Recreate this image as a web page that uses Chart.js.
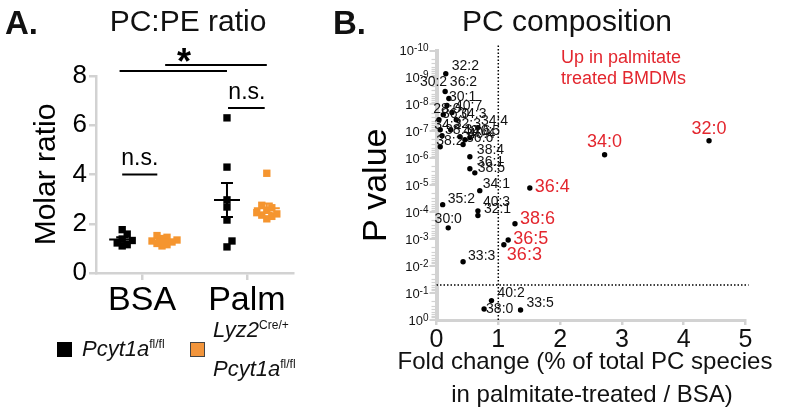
<!DOCTYPE html>
<html>
<head>
<meta charset="utf-8">
<script src="https://cdn.jsdelivr.net/npm/chart.js@4.4.1/dist/chart.umd.min.js"></script>
<style>
  html, body { margin: 0; padding: 0; background: #fff; }
  body { width: 790px; height: 411px; position: relative; overflow: hidden;
         font-family: 'Liberation Sans', Arial, Helvetica, sans-serif; color: #111; }
  canvas { position: absolute; top: 0; }
  #chartA { left: 0; }
  #chartB { left: 330px; }
  .t { position: absolute; white-space: nowrap; line-height: 1; }
  .letter { font-weight: bold; font-size: 33px; top: 6px; }
  .title { font-size: 30px; top: 6px; transform: translateX(-50%); }
  .leg { font-size: 22px; font-style: italic; line-height: 22px; }
  .leg span { font-style: normal; font-size: 12px; position: relative; top: -8px; }
  .box { position: absolute; width: 15px; height: 15px; box-sizing: border-box; }
  .up { color: #e3262e; font-size: 18px; line-height: 21px; left: 561px; top: 47px; }
</style>
</head>
<body>
<canvas id="chartA" width="330" height="411"></canvas>
<canvas id="chartB" width="460" height="411"></canvas>

<div class="t letter" style="left:5px">A.</div>
<div class="t letter" style="left:333px">B.</div>
<div class="t title" style="left:188px">PC:PE ratio</div>
<div class="t title" style="left:567px">PC composition</div>

<div class="box" style="left:57px; top:342px; background:#000"></div>
<div class="t leg" style="left:82px; top:338px">Pcyt1a<span>fl/fl</span></div>
<div class="box" style="left:190px; top:342px; background:#f2953c; border:1px solid #444"></div>
<div class="t leg" style="left:213px; top:319px">Lyz2<span>Cre/+</span></div>
<div class="t leg" style="left:213px; top:358px">Pcyt1a<span>fl/fl</span></div>

<div class="t up">Up in palmitate<br>treated BMDMs</div>

<script>
// ---- Panel A data: PC:PE molar ratio ----
const groups = ['BSA', 'Palm'];
const ctrlBSA = [1.76, 1.58, 1.38, 1.32, 1.22, 1.15, 1.10];
const koBSA = [1.52, 1.45, 1.40, 1.34, 1.30, 1.26, 1.20, 1.15, 1.10];
const ctrlPalm = [6.30, 4.30, 2.97, 2.68, 2.15, 1.30, 1.06];
const koPalm = [4.05, 2.75, 2.65, 2.55, 2.45, 2.40, 2.35, 2.30, 2.20];
const ratioTicks = [0, 2, 4, 6, 8];

// ---- Panel B data: PC species, fold change vs -log10(P) ----
const species = ['32:0', '34:0', '36:4', '38:6', '36:5', '36:3', '33:3', '40:2', '38:0', '33:5',
  '30:0', '35:2', '40:3', '32:1', '34:1', '38:4', '36:1', '38:5', '32:2', '30:2', '36:2', '30:1',
  '28:0', '36:0', '40:7', '34:3', '32:3', '34:2', '38:3', '40:6', '40:4', '40:5', '34:4', '38:2', '36:6'];
const foldChange = [4.41, 2.72, 1.51, 1.27, 1.16, 1.09, 0.43, 0.89, 0.77, 1.36,
  0.19, 0.10, 0.67, 0.67, 0.70, 0.54, 0.54, 0.62, 0.15, 0.14, 0.20, 0.17,
  0.11, 0.04, 0.25, 0.32, 0.23, 0.06, 0.09, 0.38, 0.46, 0.54, 0.67, 0.06, 0.43];
const negLog10P = [6.65, 6.13, 4.90, 3.57, 2.97, 2.79, 2.16, 0.72, 0.41, 0.37,
  3.42, 4.28, 4.05, 3.88, 4.80, 6.06, 5.61, 5.46, 9.14, 8.48, 8.22, 7.96,
  7.62, 7.43, 7.70, 7.43, 7.06, 7.06, 6.84, 6.80, 6.69, 6.77, 7.14, 6.43, 6.51];
const upSpecies = ['32:0', '34:0', '36:4', '38:6', '36:5', '36:3'];
const foldTicks = [0, 1, 2, 3, 4, 5];
const pDecades = [0, 1, 2, 3, 4, 5, 6, 7, 8, 9, 10];
const foldCutoff = 1;
const pCutoff = 0.05;
const xTitleB = ['Fold change (% of total PC species', 'in palmitate-treated / BSA)'];

Chart.defaults.font.family = "'Liberation Sans', Arial, Helvetica, sans-serif";
Chart.defaults.color = '#111';

const AXIS_GREY = '#d2d2d2';
const ORANGE = '#f5952f';
const RED = '#e3262e';

// layout of panel A (canvas px)
const A = { left: 96, right: 293, top: 76, bottom: 273, xMin: 0.12, xMax: 3.88 };
const posA = { ctrlBSA: 0.62, koBSA: 1.38, ctrlPalm: 2.62, koPalm: 3.38 };

const mean = v => v.reduce((a, b) => a + b, 0) / v.length;
const sem = v => {
    const m = mean(v);
    const sd = Math.sqrt(v.reduce((a, b) => a + (b - m) * (b - m), 0) / (v.length - 1));
    return sd / Math.sqrt(v.length);
};

// simple column beeswarm so overlapping squares spread sideways
function swarm(values, center) {
    const xPerPx = (A.xMax - A.xMin) / (A.right - A.left);
    const yPerPx = 8 / (A.bottom - A.top);
    const step = 5, gapY = 6.5;
    const placed = [];
    values.slice().sort((a, b) => a - b).forEach(v => {
        for (let k = 0; k < 20; k++) {
            const off = (k % 2 ? 1 : -1) * Math.ceil(k / 2) * step;
            const clash = placed.some(p => p.off === off && Math.abs(p.v - v) / yPerPx < gapY);
            if (!clash) { placed.push({ v, off }); break; }
        }
    });
    return placed.map(p => ({ x: center + p.off * xPerPx, y: p.v }));
}

const seriesA = [
    { values: ctrlBSA, pos: posA.ctrlBSA, color: '#000' },
    { values: koBSA, pos: posA.koBSA, color: ORANGE },
    { values: ctrlPalm, pos: posA.ctrlPalm, color: '#000' },
    { values: koPalm, pos: posA.koPalm, color: ORANGE }
];

// mean +/- SEM and the significance brackets
const annotA = {
    id: 'annotA',
    afterDatasetsDraw(chart) {
        const { ctx, scales: { x, y } } = chart;
        ctx.save();
        ctx.lineWidth = 2;
        seriesA.forEach(s => {
            const m = mean(s.values), e = sem(s.values);
            const cx = x.getPixelForValue(s.pos);
            const ym = y.getPixelForValue(m), yt = y.getPixelForValue(m + e), yb = y.getPixelForValue(m - e);
            ctx.strokeStyle = s.color;
            ctx.beginPath();
            ctx.moveTo(cx - 13, ym); ctx.lineTo(cx + 13, ym);
            ctx.moveTo(cx, yt); ctx.lineTo(cx, yb);
            ctx.moveTo(cx - 6, yt); ctx.lineTo(cx + 6, yt);
            ctx.moveTo(cx - 6, yb); ctx.lineTo(cx + 6, yb);
            ctx.stroke();
        });

        const hline = (x1, x2, v) => {
            const py = y.getPixelForValue(v);
            ctx.beginPath();
            ctx.moveTo(x.getPixelForValue(x1), py);
            ctx.lineTo(x.getPixelForValue(x2), py);
            ctx.stroke();
            return py;
        };
        ctx.strokeStyle = '#000';
        ctx.fillStyle = '#000';
        ctx.textAlign = 'center';
        ctx.textBaseline = 'alphabetic';

        // n.s. within each treatment
        ctx.font = "23px 'Liberation Sans', Arial, sans-serif";
        let py = hline(posA.ctrlBSA, posA.koBSA - 0.09, 4.0);
        ctx.fillText('n.s.', x.getPixelForValue((posA.ctrlBSA + posA.koBSA - 0.09) / 2), py - 10);
        py = hline(posA.ctrlPalm + 0.02, posA.koPalm - 0.04, 6.7);
        ctx.fillText('n.s.', x.getPixelForValue((posA.ctrlPalm + posA.koPalm) / 2), py - 9);

        // * BSA vs Palm
        hline(posA.ctrlBSA - 0.05, posA.ctrlPalm, 8.2);
        py = hline(posA.koBSA + 0.06, posA.koPalm, 8.45);
        ctx.font = "bold 36px 'Liberation Sans', Arial, sans-serif";
        ctx.fillText('*', x.getPixelForValue(1.8), py + 9);
        ctx.restore();
    }
};

new Chart(document.getElementById('chartA'), {
    type: 'scatter',
    data: {
        datasets: seriesA.map(s => ({
            data: swarm(s.values, s.pos),
            backgroundColor: s.color,
            borderWidth: 0,
            pointStyle: 'rect',
            pointRadius: 5.2
        }))
    },
    options: {
        responsive: false,
        animation: false,
        devicePixelRatio: 1,
        layout: { padding: { left: 0, top: A.top, right: 330 - A.right, bottom: 0 } },
        plugins: { legend: { display: false }, tooltip: { enabled: false } },
        scales: {
            x: {
                type: 'linear',
                min: A.xMin, max: A.xMax,
                afterFit: s => { s.height = 411 - A.bottom; },
                afterBuildTicks: s => { s.ticks = [1, 3].map(v => ({ value: v })); },
                ticks: {
                    callback: v => groups[[1, 3].indexOf(v)],
                    font: { size: 34 }, color: '#000', padding: 0, maxRotation: 0
                },
                grid: { drawOnChartArea: false, drawTicks: true, tickLength: 7, color: AXIS_GREY, lineWidth: 2.5 },
                border: { color: AXIS_GREY, width: 2.5 }
            },
            y: {
                min: 0, max: 8,
                afterFit: s => { s.width = A.left; },
                afterBuildTicks: s => { s.ticks = ratioTicks.map(v => ({ value: v })); },
                ticks: { font: { size: 26 }, color: '#000', padding: 2 },
                grid: { drawOnChartArea: false, drawTicks: true, tickLength: 7, color: AXIS_GREY, lineWidth: 2.5 },
                border: { color: AXIS_GREY, width: 2.5 },
                title: { display: true, text: 'Molar ratio', font: { size: 30 }, color: '#000', padding: { top: 29, bottom: 0 } }
            }
        }
    },
    plugins: [annotA]
});

// ---- Panel B ----
const B = { left: 106.5, right: 415.5, top: 50.5, bottom: 320 };
const labelStyle = {
    '30:2': { dx: 2, dy: -9, align: 'right' },
    '36:2': { dx: 1, dy: -16 },
    '32:2': { dx: 6, dy: -8 },
    '30:1': { dx: 2, dy: -8 },
    '30:0': { dx: 0, dy: -9, align: 'center' },
    '34:1': { dx: 3, dy: -6 },
    '40:3': { dx: 5, dy: -9 },
    '32:1': { dx: 6, dy: -6 },
    '38:4': { dx: 7, dy: -7 },
    '36:1': { dx: 7, dy: -7 },
    '38:5': { dx: 3, dy: -5 },
    '38:0': { dx: 2, dy: 0 },
    '40:2': { dx: 6, dy: -7 },
    '33:5': { dx: 6, dy: -7 },
    '33:3': { dx: 5, dy: -6 },
    '35:2': { dx: 5, dy: -6 },
    '36:4': { dx: 5, dy: -1 },
    '38:6': { dx: 5, dy: -5 },
    '36:5': { dx: 5, dy: -1 },
    '36:3': { dx: 3, dy: 10 },
    '34:0': { dx: 0, dy: -13, align: 'center' },
    '32:0': { dx: 0, dy: -12, align: 'center' },
    '28:0': { dx: -10, dy: -6 },
    '34:2': { dx: -6, dy: -5 },
    '38:2': { dx: -4, dy: -6 }
};

const annotB = {
    id: 'annotB',
    afterDraw(chart) {
        const { ctx, chartArea, scales: { y } } = chart;
        const axisX = chartArea.left;
        ctx.save();
        // minor log ticks
        ctx.strokeStyle = AXIS_GREY;
        ctx.lineWidth = 1.2;
        pDecades.slice(0, -1).forEach(n => {
            for (let k = 2; k <= 9; k++) {
                const py = Math.round(y.getPixelForValue(n + 1 - Math.log10(k))) + 0.5;
                ctx.beginPath();
                ctx.moveTo(axisX - 5, py); ctx.lineTo(axisX, py);
                ctx.stroke();
            }
        });
        // 10^-n tick labels
        ctx.fillStyle = '#111';
        pDecades.forEach(n => {
            const py = y.getPixelForValue(n);
            const exp = n === 0 ? '0' : '-' + n;
            ctx.font = "10px 'Liberation Sans', Arial, sans-serif";
            const ew = ctx.measureText(exp).width;
            ctx.textAlign = 'right';
            ctx.textBaseline = 'alphabetic';
            const right = axisX - 8;
            ctx.fillText(exp, right, py + 0.5);
            ctx.font = "13px 'Liberation Sans', Arial, sans-serif";
            ctx.textBaseline = 'middle';
            ctx.fillText('10', right - ew, py + 1);
        });

        // x axis title, allowed to run wider than the axis
        ctx.font = "24px 'Liberation Sans', Arial, sans-serif";
        ctx.textAlign = 'center';
        ctx.textBaseline = 'middle';
        const cx = (chartArea.left + chartArea.right) / 2;
        ctx.fillText(xTitleB[0], cx - 6, 362);
        ctx.fillText(xTitleB[1], cx + 1, 395);

        // species labels
        const meta = chart.getDatasetMeta(0);
        meta.data.forEach((pt, i) => {
            const name = species[i];
            const up = upSpecies.includes(name);
            const st = labelStyle[name] || { dx: 3, dy: -6 };
            ctx.font = (up ? 18 : 14) + "px 'Liberation Sans', Arial, sans-serif";
            ctx.fillStyle = up ? RED : '#111';
            ctx.textAlign = st.align || 'left';
            ctx.textBaseline = 'middle';
            ctx.fillText(name, pt.x + st.dx, pt.y + st.dy);
        });
        ctx.restore();
    }
};

const pLine = -Math.log10(pCutoff);
new Chart(document.getElementById('chartB'), {
    type: 'scatter',
    data: {
        datasets: [
            {
                data: species.map((s, i) => ({ x: foldChange[i], y: negLog10P[i] })),
                backgroundColor: '#000',
                borderWidth: 0,
                pointRadius: 2.7,
                clip: false
            },
            {
                type: 'line',
                data: [{ x: foldCutoff, y: 0 }, { x: foldCutoff, y: 10.2 }],
                borderColor: '#000', borderWidth: 1.5, borderDash: [1.5, 2],
                pointRadius: 0, clip: false
            },
            {
                type: 'line',
                data: [{ x: 0, y: pLine }, { x: 5.05, y: pLine }],
                borderColor: '#000', borderWidth: 1.5, borderDash: [1.5, 2],
                pointRadius: 0, clip: false
            }
        ]
    },
    options: {
        responsive: false,
        animation: false,
        devicePixelRatio: 1,
        layout: { padding: { left: 0, top: B.top, right: 460 - B.right, bottom: 0 } },
        plugins: { legend: { display: false }, tooltip: { enabled: false } },
        scales: {
            x: {
                type: 'linear',
                min: 0, max: 5,
                afterFit: s => { s.height = 411 - B.bottom; },
                afterBuildTicks: s => { s.ticks = foldTicks.map(v => ({ value: v })); },
                ticks: { font: { size: 25 }, color: '#111', padding: 0, maxRotation: 0 },
                grid: { drawOnChartArea: false, drawTicks: true, tickLength: 5, color: AXIS_GREY, lineWidth: 2.5 },
                border: { color: AXIS_GREY, width: 3 }
            },
            y: {
                min: 0, max: 10,
                afterFit: s => { s.width = B.left; },
                afterBuildTicks: s => { s.ticks = pDecades.map(v => ({ value: v })); },
                ticks: { display: false },
                grid: { drawOnChartArea: false, drawTicks: true, tickLength: 7, color: AXIS_GREY, lineWidth: 2 },
                border: { color: AXIS_GREY, width: 4 },
                title: { display: true, text: 'P value', font: { size: 34 }, color: '#000', padding: { top: 26, bottom: 0 } }
            }
        }
    },
    plugins: [annotB]
});
</script>
</body>
</html>
